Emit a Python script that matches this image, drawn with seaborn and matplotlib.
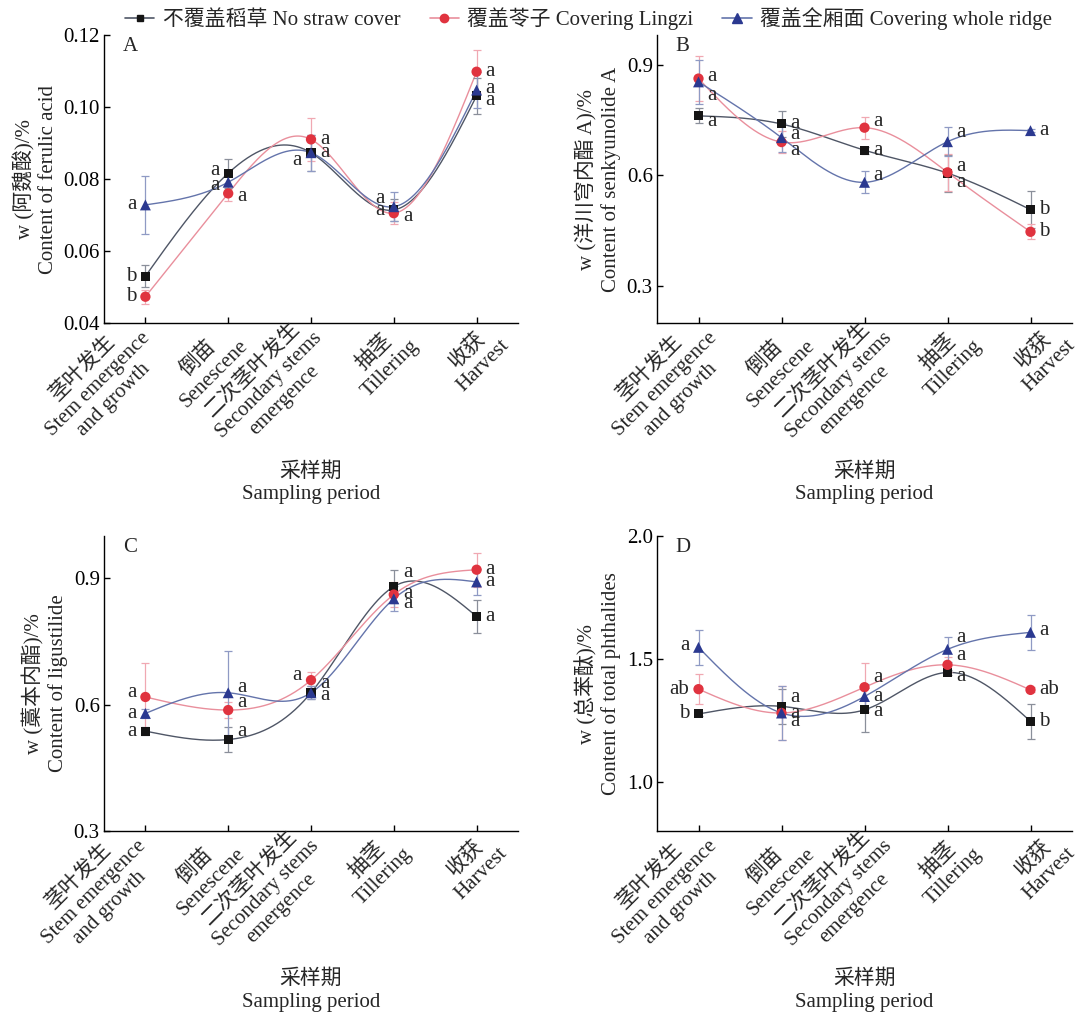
import numpy as np
import pandas as pd
import matplotlib
matplotlib.use("Agg")
import matplotlib.pyplot as plt
from matplotlib.lines import Line2D
import seaborn as sns

# ---------------- data ----------------
stages = ["茎叶发生\nStem emergence\nand growth", "倒苗\nSenescene",
          "二次茎叶发生\nSecondary stems\nemergence", "抽茎\nTillering", "收获\nHarvest"]
treatments = ["不覆盖稻草 No straw cover", "覆盖苓子 Covering Lingzi", "覆盖全厢面 Covering whole ridge"]

# A: ferulic acid
A_none = [0.0530, 0.0816, 0.0873, 0.0714, 0.1031]
A_lingzi = [0.0473, 0.0760, 0.0910, 0.0705, 0.1098]
A_ridge = [0.0728, 0.0791, 0.0873, 0.0723, 0.1047]
A_none_err = [0.003, 0.004, 0.005, 0.003, 0.005]
A_lingzi_err = [0.002, 0.002, 0.006, 0.003, 0.006]
A_ridge_err = [0.008, 0.003, 0.005, 0.004, 0.005]
A_none_sig = ["b", "a", "a", "a", "a"]
A_lingzi_sig = ["b", "a", "a", "a", "a"]
A_ridge_sig = ["a", "a", "a", "a", "a"]

# B: senkyunolide A
B_none = [0.761, 0.739, 0.668, 0.606, 0.507]
B_lingzi = [0.862, 0.690, 0.729, 0.608, 0.447]
B_ridge = [0.853, 0.702, 0.581, 0.691, 0.721]
B_none_err = [0.020, 0.035, 0.010, 0.050, 0.050]
B_lingzi_err = [0.060, 0.030, 0.030, 0.050, 0.020]
B_ridge_err = [0.060, 0.040, 0.030, 0.040, 0.005]
B_none_sig = ["a", "a", "a", "a", "b"]
B_lingzi_sig = ["a", "a", "a", "a", "b"]
B_ridge_sig = ["a", "a", "a", "a", "a"]

# C: ligustilide
C_none = [0.537, 0.517, 0.628, 0.880, 0.809]
C_lingzi = [0.618, 0.587, 0.658, 0.861, 0.920]
C_ridge = [0.579, 0.628, 0.628, 0.851, 0.891]
C_none_err = [0.010, 0.030, 0.015, 0.040, 0.040]
C_lingzi_err = [0.080, 0.020, 0.020, 0.030, 0.040]
C_ridge_err = [0.010, 0.100, 0.015, 0.030, 0.030]
C_none_sig = ["a", "a", "a", "a", "a"]
C_lingzi_sig = ["a", "a", "a", "a", "a"]
C_ridge_sig = ["a", "a", "a", "a", "a"]

# D: total phthalides
D_none = [1.276, 1.307, 1.293, 1.445, 1.246]
D_lingzi = [1.377, 1.280, 1.385, 1.476, 1.374]
D_ridge = [1.547, 1.280, 1.347, 1.539, 1.608]
D_none_err = [0.010, 0.070, 0.090, 0.010, 0.070]
D_lingzi_err = [0.060, 0.110, 0.100, 0.030, 0.010]
D_ridge_err = [0.070, 0.110, 0.050, 0.050, 0.070]
D_none_sig = ["b", "a", "a", "a", "b"]
D_lingzi_sig = ["ab", "a", "a", "a", "ab"]
D_ridge_sig = ["a", "a", "a", "a", "a"]

ylabels = ["w (阿魏酸)/%\nContent of ferulic acid",
           "w (洋川穹内酯 A)/%\nContent of senkyunolide A",
           "w (藁本内酯)/%\nContent of ligustilide",
           "w (总苯酞)/%\nContent of total phthalides"]
xlabel = "采样期\nSampling period"
panel_letters = ["A", "B", "C", "D"]
A_yticks = [0.04, 0.06, 0.08, 0.10, 0.12]
B_yticks = [0.3, 0.6, 0.9]
C_yticks = [0.3, 0.6, 0.9]
D_yticks = [1.0, 1.5, 2.0]

# ---------------- style ----------------
sns.set_style("ticks")
plt.rcParams["font.family"] = ["Liberation Serif", "Noto Sans CJK SC", "DejaVu Sans"]
plt.rcParams["axes.unicode_minus"] = False

marker_colors = ["#151515", "#e0333f", "#2b3990"]
line_colors = ["#4f5666", "#e98f9c", "#6474ab"]
err_colors = ["#8a8f9a", "#f0a8b2", "#8f9ac4"]
markers = ["s", "o", "^"]
msizes = [42, 55, 62]

# horizontal shift (pixels) of each rotated tick label anchor, per panel
label_shift = [[2, 9, 8, 14, 22],
               [16, 23, 24, 24, 34],
               [-2, 6, 5, 7, 20],
               [16, 23, 24, 24, 34]]

# label offsets in pixels (dx, dy) per panel, stage, series [none, lingzi, ridge]
R, L = 9, -9
offsets = {
    0: [[(L, 0), (L, 0), (L, 0)],
        [(L, 3), (R, -3), (L, -3)],
        [(R, 0), (R, 0), (L, -8)],
        [(L, -1), (R, -3), (L, 8)],
        [(R, -5), (R, 0), (R, 2)]],
    1: [[(R, -6), (R, 2), (R, -14)],
        [(R, 0), (R, -8), (R, 3)],
        [(R, 0), (R, 6), (R, 7)],
        [(R, -9), (R, 6), (R, 9)],
        [(R, 0), (R, 0), (R, 0)]],
    2: [[(L, 0), (L, 4), (L, 0)],
        [(R, 8), (R, 8), (R, 5)],
        [(R, -3), (L, 5), (R, 9)],
        [(R, 14), (R, 1), (R, -5)],
        [(R, 0), (R, 0), (R, 0)]],
    3: [[(L, 0), (L, 0), (L, 2)],
        [(R, 9), (R, -9), (R, 0)],
        [(R, -2), (R, 10), (R, 0)],
        [(R, -4), (R, 9), (R, 12)],
        [(R, 0), (R, 0), (R, 2)]],
}

panels = [
    ([A_none, A_lingzi, A_ridge], [A_none_err, A_lingzi_err, A_ridge_err],
     [A_none_sig, A_lingzi_sig, A_ridge_sig], (0.04, 0.12), A_yticks, "%.2f"),
    ([B_none, B_lingzi, B_ridge], [B_none_err, B_lingzi_err, B_ridge_err],
     [B_none_sig, B_lingzi_sig, B_ridge_sig], (0.2, 0.98), B_yticks, "%.1f"),
    ([C_none, C_lingzi, C_ridge], [C_none_err, C_lingzi_err, C_ridge_err],
     [C_none_sig, C_lingzi_sig, C_ridge_sig], (0.3, 1.0), C_yticks, "%.1f"),
    ([D_none, D_lingzi, D_ridge], [D_none_err, D_lingzi_err, D_ridge_err],
     [D_none_sig, D_lingzi_sig, D_ridge_sig], (0.8, 2.0), D_yticks, "%.1f"),
]


def natural_spline(xk, yk, xs):
    xk = np.asarray(xk, float)
    yk = np.asarray(yk, float)
    n = len(xk)
    h = np.diff(xk)
    M = np.zeros((n, n))
    r = np.zeros(n)
    M[0, 0] = M[-1, -1] = 1
    for i in range(1, n - 1):
        M[i, i - 1] = h[i - 1]
        M[i, i] = 2 * (h[i - 1] + h[i])
        M[i, i + 1] = h[i]
        r[i] = 6 * ((yk[i + 1] - yk[i]) / h[i] - (yk[i] - yk[i - 1]) / h[i - 1])
    m = np.linalg.solve(M, r)
    idx = np.clip(np.searchsorted(xk, xs) - 1, 0, n - 2)
    x0, x1 = xk[idx], xk[idx + 1]
    hh = x1 - x0
    return (m[idx] * (x1 - xs) ** 3 / (6 * hh) + m[idx + 1] * (xs - x0) ** 3 / (6 * hh)
            + (yk[idx] / hh - m[idx] * hh / 6) * (x1 - xs)
            + (yk[idx + 1] / hh - m[idx + 1] * hh / 6) * (xs - x0))


fig = plt.figure(figsize=(10.84, 10.14), dpi=100)
W, H = 1084, 1014
rects = [(104, 35, 518, 323), (657, 35, 1072, 323),
         (104, 536, 518, 831), (657, 536, 1072, 831)]
xpos = np.arange(len(stages))
xs = np.linspace(0, len(stages) - 1, 300)

for p, (vals, errs, sigs, ylim, yticks, fmt) in enumerate(panels):
    l, t, r_, b = rects[p]
    ax = fig.add_axes([l / W, 1 - b / H, (r_ - l) / W, (b - t) / H])
    for s in range(3):
        curve = pd.DataFrame({"x": xs, "y": natural_spline(xpos, vals[s], xs)})
        sns.lineplot(data=curve, x="x", y="y", ax=ax, color=line_colors[s],
                     linewidth=1.0, zorder=2, estimator=None, sort=False)
    for s in range(3):
        ax.errorbar(xpos, vals[s], yerr=errs[s], fmt="none", ecolor=err_colors[s],
                    elinewidth=0.9, capsize=3, capthick=0.9, zorder=3)
    for s in range(3):
        pts = pd.DataFrame({"x": xpos, "y": vals[s]})
        sns.scatterplot(data=pts, x="x", y="y", ax=ax, marker=markers[s], s=msizes[s],
                        color=marker_colors[s], edgecolor="none", linewidth=0, zorder=4)
    for s in range(3):
        for i in range(len(stages)):
            dx, dy = offsets[p][i][s]
            ax.annotate(sigs[s][i], (xpos[i], vals[s][i]), xytext=(dx, dy),
                        textcoords="offset pixels", ha="left" if dx > 0 else "right",
                        va="center", fontsize=15, zorder=5)
    ax.set_xlim(-0.5, 4.5)
    ax.set_ylim(*ylim)
    ax.set_yticks(yticks)
    ax.set_yticklabels([fmt % v for v in yticks])
    ax.set_xticks(xpos)
    ax.set_xticklabels([""] * len(stages))
    for k, lab in enumerate(stages):
        ax.annotate(lab, (xpos[k], 0), xycoords=("data", "axes fraction"),
                    xytext=(label_shift[p][k], -12), textcoords="offset pixels",
                    rotation=45, ha="right", va="center", rotation_mode="anchor",
                    multialignment="center", linespacing=1.2, fontsize=15,
                    annotation_clip=False)
    ax.tick_params(direction="in", length=4, width=1, labelsize=15, colors="black")
    ax.tick_params(axis="y", pad=3)
    for sp in ["top", "right"]:
        ax.spines[sp].set_visible(False)
    for sp in ["left", "bottom"]:
        ax.spines[sp].set_color("black")
        ax.spines[sp].set_linewidth(1.0)
    ax.set_ylabel(ylabels[p], fontsize=15, linespacing=1.25, labelpad=4)
    ax.set_xlabel(xlabel, fontsize=15, linespacing=1.25, labelpad=0)
    ax.xaxis.set_label_coords(0.5, -0.483 if p < 2 else -0.47)
    ax.text(0.045, 0.96, panel_letters[p], transform=ax.transAxes, fontsize=15,
            ha="left", va="center")

handles = [Line2D([0], [0], color=line_colors[s], marker=markers[s], markersize=[5, 6, 6.5][s],
                  markerfacecolor=marker_colors[s], markeredgecolor=marker_colors[s], linewidth=1.2)
           for s in range(3)]
fig.legend(handles, treatments, loc="upper center", bbox_to_anchor=(0.543, 1.003), ncol=3,
           frameon=False, fontsize=15, handlelength=1.4, handletextpad=0.4, columnspacing=1.4,
           borderaxespad=0.1)

fig.savefig("out.png", dpi=100)
